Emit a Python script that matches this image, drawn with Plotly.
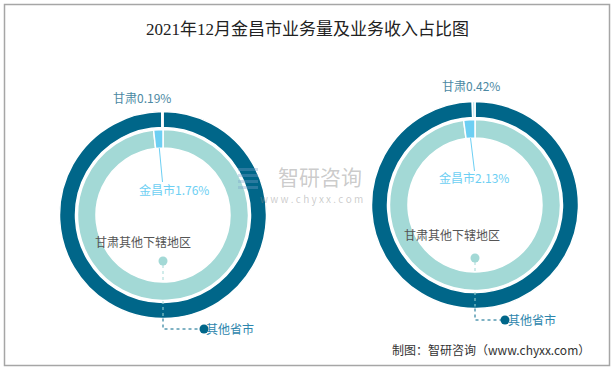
import math
import plotly.graph_objects as go

W, H = 615, 371

# ---- data ----
chart_names = ["业务量", "业务收入"]
outer_labels = ["其他省市", "甘肃"]
inner_labels = ["甘肃其他下辖地区", "金昌市"]
gansu_share = [0.19, 0.42]      # 甘肃 share of national (%)
jinchang_share = [1.76, 2.13]   # 金昌市 share of 甘肃 (%)

title_text = "2021年12月金昌市业务量及业务收入占比图"
source_text = "制图：智研咨询（www.chyxx.com）"

# ---- style / layout ----
C_DARK = "#006689"
C_LIGHT = "#a3d9d6"
C_JC = "#6dcff3"
C_GS = "#b9e3ee"
C_GS_TXT = "#4c89a3"
C_OTHER_TXT = "#2d86ad"
FONT = "Noto Sans CJK SC"

centers = [(163, 215), (475, 205)]
R_OUT, R_OUT_IN = 103.5, 87.5
R_IN, R_IN_IN = 85.5, 67.0

# per-chart label offsets (px relative to centre)
gs_lab = [(-21, -118), (-4, -120)]
jc_lab = [(11, -26), (-1, -27)]
rest_lab = [(-20, 26), (-23, 29)]
rest_dot = [(0, 46), (0, 53)]
other_dot = [(41, 114), (30, 115)]
other_lab = [(67, 113), (57, 114)]


def px(x, y):
    return x / W, 1 - y / H


def domain(cx, cy, r):
    return dict(x=[(cx - r) / W, (cx + r) / W], y=[1 - (cy + r) / H, 1 - (cy - r) / H])


def text_ann(x, y, text, size, color, family=FONT, xanchor="center"):
    ax, ay = px(x, y)
    return dict(x=ax, y=ay, xref="paper", yref="paper", showarrow=False, text=text,
                xanchor=xanchor, yanchor="middle",
                font=dict(family=family, size=size, color=color))


fig = go.Figure()
shapes = []
annotations = []

for i, (cx, cy) in enumerate(centers):
    gs = gansu_share[i]
    jc = jinchang_share[i]
    # clockwise from 12 o'clock: the large slice first, so the small one ends just left of 12
    fig.add_trace(go.Pie(
        values=[100 - gs, gs], labels=outer_labels, hole=R_OUT_IN / R_OUT,
        domain=domain(cx, cy, R_OUT), sort=False, direction="clockwise",
        rotation=0, textinfo="none", showlegend=False,
        marker=dict(colors=[C_DARK, C_GS], line=dict(color="white", width=1.5)),
        name=chart_names[i]))
    fig.add_trace(go.Pie(
        values=[100 - jc, jc], labels=inner_labels, hole=R_IN_IN / R_IN,
        domain=domain(cx, cy, R_IN), sort=False, direction="clockwise",
        rotation=0, textinfo="none", showlegend=False,
        marker=dict(colors=[C_LIGHT, C_JC], line=dict(color="white", width=1.5)),
        name=chart_names[i]))

    # 甘肃 label
    annotations.append(text_ann(cx + gs_lab[i][0], cy + gs_lab[i][1],
                                f"{outer_labels[1]}{gs:.2f}%", 12, C_GS_TXT))
    # 金昌市 leader + label
    ang = math.radians(jc / 100 * 360 / 2)
    x0, y0 = px(cx - R_IN_IN * math.sin(ang), cy - R_IN_IN * math.cos(ang))
    x1, y1 = px(cx - 0.5, cy + jc_lab[i][1] - 7)
    shapes.append(dict(type="line", xref="paper", yref="paper", x0=x0, y0=y0, x1=x1, y1=y1,
                       line=dict(color=C_JC, width=1)))
    annotations.append(text_ann(cx + jc_lab[i][0], cy + jc_lab[i][1],
                                f"{inner_labels[1]}{jc:.2f}%", 12, C_JC))
    # 甘肃其他下辖地区 label + dot
    annotations.append(text_ann(cx + rest_lab[i][0], cy + rest_lab[i][1],
                                inner_labels[0], 12, "#555555"))
    dx, dy = cx + rest_dot[i][0], cy + rest_dot[i][1]
    ox, oy = cx + other_dot[i][0], cy + other_dot[i][1]
    # light dashed vertical line through rings
    a0, b0 = px(dx, dy + 4)
    a1, b1 = px(dx, cy + R_OUT - 2)
    shapes.append(dict(type="line", xref="paper", yref="paper", x0=a0, y0=b0, x1=a1, y1=b1,
                       line=dict(color=C_LIGHT, width=1, dash="dot")))
    # dark dashed elbow to 其他省市
    a0, b0 = px(dx, cy + R_OUT)
    a1, b1 = px(dx, oy)
    a2, b2 = px(ox, oy)
    shapes.append(dict(type="path", xref="paper", yref="paper",
                       path=f"M {a0},{b0} L {a1},{b1} L {a2},{b2}",
                       line=dict(color=C_DARK, width=1, dash="dot")))
    r = 4.5
    for (ccx, ccy, col) in [(dx, dy, C_LIGHT), (ox, oy, C_DARK)]:
        p0 = px(ccx - r, ccy + r)
        p1 = px(ccx + r, ccy - r)
        shapes.append(dict(type="circle", xref="paper", yref="paper",
                           x0=p0[0], y0=p0[1], x1=p1[0], y1=p1[1],
                           fillcolor=col, line=dict(width=0)))
    annotations.append(text_ann(cx + other_lab[i][0], cy + other_lab[i][1],
                                outer_labels[0], 12, C_OTHER_TXT))

# border
b0 = px(4.5, 365.5)
b1 = px(609.5, 4.5)
shapes.append(dict(type="rect", xref="paper", yref="paper", x0=b0[0], y0=b0[1], x1=b1[0], y1=b1[1],
                   line=dict(color="#a6a6a6", width=1.5), fillcolor="rgba(0,0,0,0)"))

# watermark logo stripes
for yy in [168, 174, 180, 186]:
    p0 = px(238, yy + 3)
    p1 = px(258, yy)
    shapes.append(dict(type="rect", xref="paper", yref="paper", x0=p0[0], y0=p0[1], x1=p1[0], y1=p1[1],
                       fillcolor="rgba(120,160,200,0.35)", line=dict(width=0)))

annotations.append(text_ann(320, 176, "智研咨询", 21, "rgba(140,140,140,0.45)"))
annotations.append(text_ann(311, 198, "w w w . c h y x x . c o m", 10, "rgba(140,140,140,0.45)"))

# title
annotations.append(text_ann(307.5, 30, title_text, 17, "#222222",
                            family="Liberation Serif, " + FONT))
# source
annotations.append(text_ann(592, 349, source_text, 12, "#333333", xanchor="right"))

fig.update_layout(width=W, height=H, autosize=False,
                  margin=dict(l=0, r=0, t=0, b=0),
                  paper_bgcolor="white", plot_bgcolor="white",
                  shapes=shapes, annotations=annotations, showlegend=False)

fig.write_html("out.html", config={"displayModeBar": False},
               post_script="document.body.style.margin='0';")
